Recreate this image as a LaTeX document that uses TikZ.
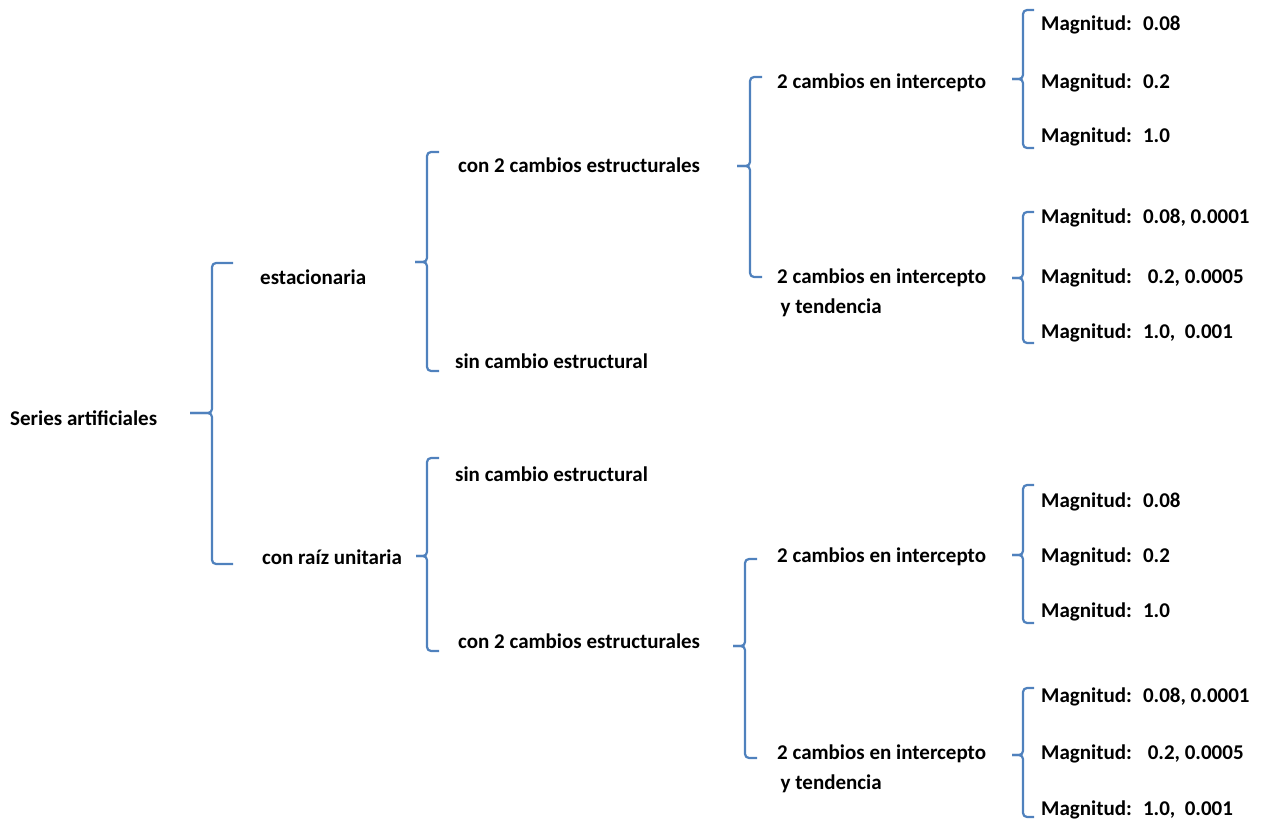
\documentclass[tikz,border=0pt]{standalone}
\usepackage{fontspec}
\setmainfont{Carlito}
\definecolor{bracecol}{HTML}{4F81BD}
\begin{document}
\begin{tikzpicture}[x=1pt,y=-1pt,
  lbl/.style={anchor=west,inner sep=0pt,font=\bfseries\fontsize{21}{30}\selectfont},
  brace/.style={draw=bracecol,line width=2.2pt,rounded corners=4pt}]
\useasboundingbox (0,0) rectangle (1262,821);
% braces: \bracepath{tipx}{vx}{endx}{top}{tipy}{bottom}
\newcommand{\bracepath}[6]{%
  \draw[brace] (#3,#4) -- (#2,#4) -- (#2,#5) -- (#1,#5);
  \draw[brace] (#1,#5) -- (#2,#5) -- (#2,#6) -- (#3,#6);}
\bracepath{190}{212}{233}{263}{413}{564}
\bracepath{415}{427}{439}{152}{262}{371}
\bracepath{737}{750}{762}{77}{166}{277}
\bracepath{1012}{1023}{1034}{10}{79}{148}
\bracepath{1012}{1023}{1034}{212}{278}{343}
\bracepath{416}{427}{439}{458}{556}{651}
\bracepath{733}{745}{757}{559}{646}{758}
\bracepath{1012}{1023}{1034}{485}{555}{623}
\bracepath{1012}{1023}{1034}{688}{755}{817}
% labels
\node[lbl] (root) at (10,418) {Series artificiales};
\node[lbl] (est) at (260,277) {estacionaria};
\node[lbl] (raiz) at (262,557) {con raíz unitaria};
\node[lbl] (e2c) at (458,165) {con 2 cambios estructurales};
\node[lbl] (esc) at (455,361) {sin cambio estructural};
\node[lbl] (rsc) at (455,474) {sin cambio estructural};
\node[lbl] (r2c) at (458,641) {con 2 cambios estructurales};
\node[lbl] (ei) at (777,83) {2 cambios en intercepto};
\node[lbl,align=left] (eit) at (777,293) {2 cambios en intercepto\\ \,y tendencia};
\node[lbl] (ri) at (777,557) {2 cambios en intercepto};
\node[lbl,align=left] (rit) at (777,769) {2 cambios en intercepto\\ \,y tendencia};
\node[lbl] (m1) at (1041,25) {Magnitud:~ 0.08};
\node[lbl] (m2) at (1041,83) {Magnitud:~ 0.2};
\node[lbl] (m3) at (1041,137) {Magnitud:~ 1.0};
\node[lbl] (m4) at (1041,218) {Magnitud:~ 0.08, 0.0001};
\node[lbl] (m5) at (1041,278) {Magnitud:~~ 0.2, 0.0005};
\node[lbl] (m6) at (1041,333) {Magnitud:~ 1.0,~ 0.001};
\node[lbl] (m7) at (1041,502) {Magnitud:~ 0.08};
\node[lbl] (m8) at (1041,557) {Magnitud:~ 0.2};
\node[lbl] (m9) at (1041,612) {Magnitud:~ 1.0};
\node[lbl] (m10) at (1041,697) {Magnitud:~ 0.08, 0.0001};
\node[lbl] (m11) at (1041,754) {Magnitud:~~ 0.2, 0.0005};
\node[lbl] (m12) at (1041,810) {Magnitud:~ 1.0,~ 0.001};
\end{tikzpicture}
\end{document}
